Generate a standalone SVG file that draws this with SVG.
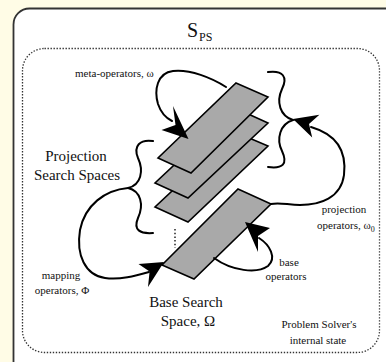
<svg xmlns="http://www.w3.org/2000/svg" width="386" height="362" viewBox="0 0 386 362" font-family="Liberation Serif, DejaVu Serif, serif">
  <style>
    text { font-family: "Liberation Serif", "DejaVu Serif", serif; fill: #111; }
    .big { font-size: 15px; }
    .small { font-size: 11px; }
    .plane { fill: #a9a9a9; stroke: #000; stroke-width: 1.6; stroke-linejoin: miter; }
    .wire { fill: none; stroke: #000; stroke-width: 2; stroke-linecap: round; }
    .head { fill: #000; stroke: none; }
  </style>

  <!-- page background and problem-solver frame -->
  <rect x="0" y="0" width="386" height="362" fill="#fffce6"/>
  <rect id="frame" x="13.5" y="8.5" width="390" height="370" rx="16" fill="#fff" stroke="#333" stroke-width="1.8"/>
  <rect id="state" x="22.5" y="48.5" width="357" height="304" rx="22" fill="none" stroke="#333" stroke-width="1.3" stroke-dasharray="1.4 1.6"/>

  <g id="title">
    <text x="187" y="37" font-size="20">S</text>
    <text x="199" y="41" font-size="12">PS</text>
  </g>

  <!-- projection spaces, drawn back to front -->
  <g id="projection-spaces">
    <polygon class="plane" points="235,132 268,146 188,222 155,207"/>
    <polygon class="plane" points="235,108 268,123 188,198 155,183"/>
    <polygon class="plane" points="236,83 268,97 191,173 158,158"/>
    <line x1="175" y1="229" x2="175" y2="248" stroke="#000" stroke-width="1.3" stroke-dasharray="1.5 2.2"/>
  </g>

  <g id="base-space">
    <polygon class="plane" points="238,189 271,204 194,279 162,265"/>
  </g>

  <g id="connectors">
    <!-- braces grouping the projection spaces -->
    <path class="wire" d="M153,141 C140,139 133,146 138,158 C144,171 141,185 128,188 C141,191 144,205 138,218 C133,230 140,234 153,233"/>
    <path class="wire" d="M268,72 C283,70 288,77 282,89 C276,102 280,116 293,120 C280,124 276,139 282,151 C288,164 283,169 268,167"/>

    <!-- meta-operators loop -->
    <path class="wire" d="M226,87 C212,78 190,69 173,71 C157,73 154,90 158,104 C161,113 166,118 172,121"/>
    <polygon class="head" points="188.5,139 173,106 175.5,125 161.5,130"/>

    <!-- projection operators -->
    <path class="wire" d="M311,127 C335,134 347,150 344,175 C341,198 320,205 300,205 C288,205 280,202 271,204"/>
    <polygon class="head" points="293,119 319.4,114.8 309,124 312.2,137.6"/>

    <!-- mapping operators -->
    <path class="wire" d="M128,188 C105,190 85,205 80,230 C76,255 85,275 105,278 C120,280 135,276 149,272"/>
    <polygon class="head" points="164,262 138.5,264 149.6,271.4 148,287"/>

    <!-- base operators -->
    <path class="wire" d="M259,238 C270,245 277,258 268,266 C257,274 232,271 214,258"/>
    <polygon class="head" points="245,222 270,228 258,236 258,252"/>
  </g>

  <g id="labels">
    <text class="small" x="75" y="77">meta-operators, ω</text>
    <text class="big" x="76" y="161" text-anchor="middle">Projection</text>
    <text class="big" x="77" y="180" text-anchor="middle">Search Spaces</text>
    <text class="small" x="61" y="279" text-anchor="middle">mapping</text>
    <text class="small" x="62" y="294" text-anchor="middle">operators, Φ</text>
    <text class="big" x="186" y="307" text-anchor="middle">Base Search</text>
    <text class="big" x="188" y="326" text-anchor="middle">Space,  Ω</text>
    <text class="small" x="344" y="213" text-anchor="middle">projection</text>
    <text class="small" x="317" y="229">operators, ω<tspan font-size="8" dy="3">0</tspan></text>
    <text class="small" x="289" y="266" text-anchor="middle">base</text>
    <text class="small" x="286" y="280" text-anchor="middle">operators</text>
    <text class="small" x="319" y="328" text-anchor="middle">Problem Solver's</text>
    <text class="small" x="318" y="344" text-anchor="middle">internal state</text>
  </g>
</svg>
